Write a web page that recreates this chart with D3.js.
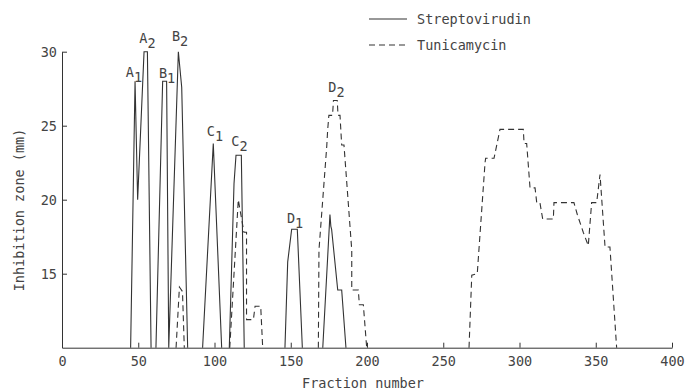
<!DOCTYPE html>
<html>
<head>
<meta charset="utf-8">
<script src="https://cdn.jsdelivr.net/npm/d3@7"></script>
<style>
  body { margin: 0; background: #fff; }
  svg text { font-family: "DejaVu Sans Mono", "Liberation Mono", monospace; fill: #444; }
</style>
</head>
<body>
<div id="chart"></div>
<script>
// fraction number vs inhibition zone (mm)
const strepPeaks = [
  [[45,10],[47.9,28],[49.6,20],[53.8,30],[56,30],[58.4,10]],
  [[61.6,10],[66,28],[68.6,28],[70,10],[76.3,30],[78.5,27.6],[82.4,10]],
  [[92.2,10],[99.2,23.8],[104.7,10]],
  [[109.7,10],[112.8,21.1],[114.1,23],[117.6,23],[119.5,10]],
  [[146.2,10],[148,15.8],[150.6,18],[154.3,18],[157.6,10]],
  [[171,10],[174.3,16.3],[175.7,19],[176.3,18.2],[176.8,18],[180.8,13.9],[183.4,13.9],[186.2,10]]
];

const tunPeaks = [
  [[74.8,10],[77,14.1],[79,13.8],[80.2,10]],
  [[110,10],[115.6,20],[119.3,17.8],[121,17.8],[121,11.9],[125.5,11.9],[126.6,12.8],[130.3,12.8],[131.6,10]],
  [[168.1,10],[168.5,16.6],[173.6,23.6],[174.2,24.7],[175,25.7],[177.4,25.7],[178,26.7],[180.5,26.7],
   [181,25.7],[182.3,25.7],[183.4,23.7],[184.9,23.7],[190,16.6],[190,13.9],[194.3,13.9],[195,12.9],
   [197.6,12.9],[199.8,10]],
  [[266.9,10],[268.7,14.9],[272.3,15],[277.4,22.5],[277.8,22.8],[283.3,22.8],[287.2,24.75],[302.5,24.75],
   [303,23.8],[304.7,23.8],[306.9,20.8],[310.2,20.8],[311.3,19.8],[313.4,19.8],[315.2,18.7],[322.2,18.7],
   [322.6,19.8],[335.7,19.8],[337.9,19],[341.8,17.8],[345.1,16.9],[347.3,19.8],[350.6,19.8],[352.8,21.7],
   [356.1,16.8],[359.3,16.8],[363.7,10]]
];

// peak names: letter, subscript, fraction, mm (label baseline)
const peakLabels = [
  ["A","1",47.2,28.3], ["A","2",56,30.6], ["B","1",68.9,28.2], ["B","2",77.4,30.7],
  ["C","1",100.3,24.3], ["C","2",116.4,23.6], ["D","1",152.8,18.4], ["D","2",180,27.3]
];

const xTicks = [0,50,100,150,200,250,300,350,400];
const yTicks = [15,20,25,30];
const seriesNames = ["Streptovirudin","Tunicamycin"];

const width = 685, height = 391;
const ink = "#333";
const dash = "6,4";

const svg = d3.select("#chart").append("svg")
  .attr("width", width).attr("height", height);

const x = d3.scaleLinear().domain([0,400]).range([62,672]);
const y = d3.scaleLinear().domain([10,30]).range([347.7,51.7]);

// axes
const xAxis = svg.append("g")
  .attr("transform", `translate(0,${y(10)})`)
  .call(d3.axisBottom(x).tickValues(xTicks).tickSizeInner(-5).tickSizeOuter(0).tickPadding(9));
const yAxis = svg.append("g")
  .attr("transform", `translate(${x(0)},0)`)
  .call(d3.axisLeft(y).tickValues(yTicks).tickSizeInner(-5).tickSizeOuter(0).tickPadding(5));

[xAxis, yAxis].forEach(g => {
  g.selectAll("path, line").attr("stroke", ink).attr("stroke-width", 1);
  g.selectAll("text").style("font-size", "13.5px").attr("fill", "#444");
});

// axis titles
svg.append("text")
  .attr("x", 363).attr("y", 388)
  .attr("text-anchor", "middle")
  .style("font-size", "13.5px")
  .text("Fraction number");

svg.append("text")
  .attr("transform", `translate(24,210) rotate(-90)`)
  .attr("text-anchor", "middle")
  .style("font-size", "13.5px")
  .text("Inhibition zone (mm)");

// curves
const line = d3.line().x(d => x(d[0])).y(d => y(d[1]));

svg.append("g").selectAll("path")
  .data(strepPeaks).join("path")
    .attr("d", line)
    .attr("fill", "none")
    .attr("stroke", ink)
    .attr("stroke-width", 1.1);

svg.append("g").selectAll("path")
  .data(tunPeaks).join("path")
    .attr("d", line)
    .attr("fill", "none")
    .attr("stroke", ink)
    .attr("stroke-width", 1.1)
    .attr("stroke-dasharray", dash);

// peak labels with subscripts
const lab = svg.append("g").selectAll("text")
  .data(peakLabels).join("text")
    .attr("x", d => x(d[2]))
    .attr("y", d => y(d[3]))
    .attr("text-anchor", "middle")
    .style("font-size", "13.5px");
lab.append("tspan").text(d => d[0]);
lab.append("tspan").attr("dy", 5).text(d => d[1]);

// legend
const legend = svg.append("g").attr("transform", "translate(369,19)");
seriesNames.forEach((name, i) => {
  const row = legend.append("g").attr("transform", `translate(0,${i * 26})`);
  row.append("line")
    .attr("x1", 0).attr("x2", 38)
    .attr("stroke", ink).attr("stroke-width", 1.1)
    .attr("stroke-dasharray", i === 1 ? dash : null);
  row.append("text")
    .attr("x", 48).attr("y", 0).attr("dy", "0.35em")
    .style("font-size", "13.5px")
    .text(name);
});
</script>
</body>
</html>
